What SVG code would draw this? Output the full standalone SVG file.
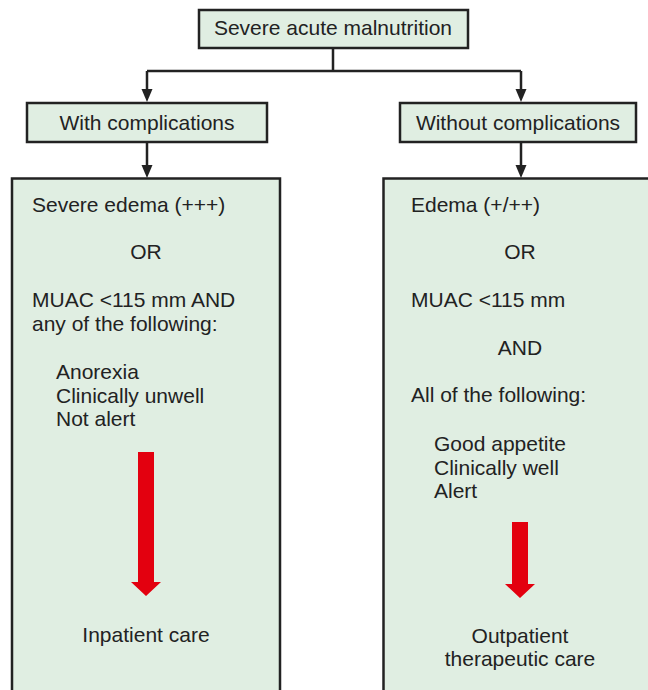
<svg xmlns="http://www.w3.org/2000/svg" width="648" height="690" viewBox="0 0 648 690">
<style>
.box{fill:#e0eee2;stroke:#222;stroke-width:2.5}
.t{font-family:"Liberation Sans",Arial,Helvetica,sans-serif;font-size:21px;fill:#222}
.c{text-anchor:middle}
.line{fill:none;stroke:#222;stroke-width:2.5}
.head{fill:#222}
.red{fill:#e3000f}
</style>
<g id="connectors">
<path class="line" d="M333 48 V71 M147 71 H521 M147 71 V92 M521 71 V92 M147 142 V168 M521 142 V168"/>
<polygon class="head" points="141.5,89 152.5,89 147,102"/>
<polygon class="head" points="515.5,89 526.5,89 521,102"/>
<polygon class="head" points="141.5,165 152.5,165 147,178"/>
<polygon class="head" points="515.5,165 526.5,165 521,178"/>
</g>
<g id="sam">
<rect class="box" x="199" y="10" width="269" height="38"/>
<text class="t c" x="333" y="35">Severe acute malnutrition</text>
</g>
<g id="with">
<rect class="box" x="27" y="103" width="240" height="39"/>
<text class="t c" x="147" y="130">With complications</text>
</g>
<g id="without">
<rect class="box" x="400" y="103" width="236" height="39"/>
<text class="t c" x="518" y="130">Without complications</text>
</g>
<g id="inpatient">
<rect class="box" x="12" y="178.5" width="268" height="530"/>
<text class="t" x="32" y="212">Severe edema (+++)</text>
<text class="t c" x="146" y="259">OR</text>
<text class="t" x="32" y="307">MUAC &lt;115 mm AND</text>
<text class="t" x="32" y="331">any of the following:</text>
<text class="t" x="56" y="379">Anorexia</text>
<text class="t" x="56" y="403">Clinically unwell</text>
<text class="t" x="56" y="426">Not alert</text>
<polygon class="red" points="138,452 154,452 154,582 161,582 146,596 131,582 138,582"/>
<text class="t c" x="146" y="642">Inpatient care</text>
</g>
<g id="outpatient">
<rect class="box" x="383.5" y="178.5" width="280" height="530"/>
<text class="t" x="411" y="212">Edema (+/++)</text>
<text class="t c" x="520" y="259">OR</text>
<text class="t" x="411" y="307">MUAC &lt;115 mm</text>
<text class="t c" x="520" y="355">AND</text>
<text class="t" x="411" y="402">All of the following:</text>
<text class="t" x="434" y="451">Good appetite</text>
<text class="t" x="434" y="475">Clinically well</text>
<text class="t" x="434" y="498">Alert</text>
<polygon class="red" points="512,522 528,522 528,584 535,584 520,598 505,584 512,584"/>
<text class="t c" x="520" y="643">Outpatient</text>
<text class="t c" x="520" y="666">therapeutic care</text>
</g>
</svg>
